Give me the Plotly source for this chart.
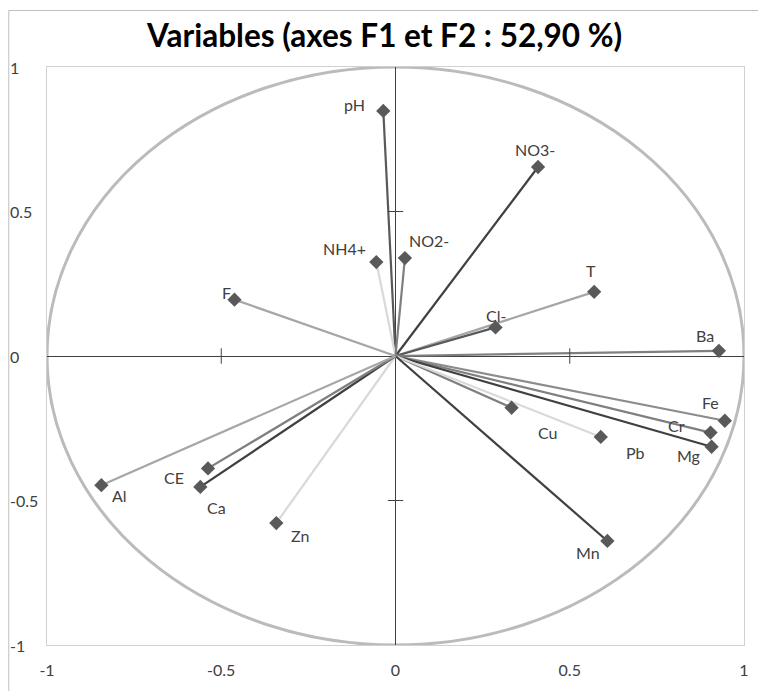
import plotly.graph_objects as go

# ---- data ----
variables = ["pH", "NO3-", "NH4+", "NO2-", "F", "T", "Cl-", "Ba", "Fe", "Cr",
             "Mg", "Cu", "Pb", "Mn", "Zn", "Ca", "CE", "Al"]
f1 = [-0.035, 0.409, -0.055, 0.027, -0.462, 0.570, 0.287, 0.928, 0.945, 0.904,
      0.907, 0.333, 0.589, 0.608, -0.342, -0.560, -0.538, -0.844]
f2 = [0.848, 0.654, 0.325, 0.339, 0.195, 0.222, 0.099, 0.018, -0.224, -0.265,
      -0.314, -0.179, -0.280, -0.640, -0.578, -0.453, -0.389, -0.447]
tick_vals = [-1, -0.5, 0, 0.5, 1]
tick_text = ["-1", "-0.5", "0", "0.5", "1"]
title_text = "Variables (axes F1 et F2 : 52,90 %)"

# ---- styles ----
line_colors = {
    "pH": "#595959", "NO3-": "#404040", "NH4+": "#D9D9D9", "NO2-": "#7F7F7F",
    "F": "#A6A6A6", "T": "#A6A6A6", "Cl-": "#595959", "Ba": "#7F7F7F",
    "Fe": "#8C8C8C", "Cr": "#7F7F7F", "Mg": "#404040", "Cu": "#7F7F7F",
    "Pb": "#D9D9D9", "Mn": "#404040", "Zn": "#D9D9D9", "Ca": "#404040",
    "CE": "#7F7F7F", "Al": "#A6A6A6",
}
# label offsets in pixels (dx right, dy down) from marker centre
label_offsets = {
    "pH": (-29, -6), "NO3-": (-3, -17), "NH4+": (-32, -14), "NO2-": (24, -18),
    "F": (-8, -7), "T": (-3, -21), "Cl-": (0, -12), "Ba": (-14, -15),
    "Fe": (-14, -18), "Cr": (-34, -7), "Mg": (-23, 9), "Cu": (36, 25),
    "Pb": (35, 16), "Mn": (-19, 12), "Zn": (24, 12), "Ca": (16, 21),
    "CE": (-34, 9), "Al": (18, 10),
}

W, H = 758, 691
ML, MR, MT, MB = 47, 9, 67, 46
PW, PH = W - ML - MR, H - MT - MB
FONT = "Lato"
TXT = "#404040"

fig = go.Figure()

for name, x, y in zip(variables, f1, f2):
    fig.add_trace(go.Scatter(
        x=[0, x], y=[0, y], mode="lines",
        line=dict(color=line_colors[name], width=2.2),
        hoverinfo="skip", showlegend=False))

fig.add_trace(go.Scatter(
    x=f1, y=f2, mode="markers", text=variables,
    marker=dict(symbol="diamond", size=11, color="#595959",
                line=dict(width=0)),
    showlegend=False, hovertemplate="%{text}: (%{x}, %{y})<extra></extra>"))

# crossing tick marks on the axes through the origin
fig.add_trace(go.Scatter(
    x=[-0.5, 0.5], y=[0, 0], mode="markers",
    marker=dict(symbol="line-ns", size=11, line=dict(color="#404040", width=1)),
    hoverinfo="skip", showlegend=False))
fig.add_trace(go.Scatter(
    x=[0, 0], y=[-0.5, 0.5], mode="markers",
    marker=dict(symbol="line-ew", size=11, line=dict(color="#404040", width=1)),
    hoverinfo="skip", showlegend=False))

annotations = []
for name, x, y in zip(variables, f1, f2):
    dx, dy = label_offsets[name]
    annotations.append(dict(
        x=x, y=y, xref="x", yref="y", text=name, showarrow=False,
        xshift=dx, yshift=-dy, font=dict(family=FONT, size=16, color=TXT)))

# y tick labels, left-aligned at the chart's left edge
for v, t in zip(tick_vals, tick_text):
    annotations.append(dict(
        x=(8 - ML) / PW, y=v, xref="paper", yref="y", text=t,
        showarrow=False, xanchor="left", yanchor="middle",
        font=dict(family=FONT, size=16, color=TXT)))

annotations.append(dict(
    x=(386 - ML) / PW, y=(H - MB - 35) / PH, xref="paper", yref="paper",
    text="<b>" + title_text + "</b>", showarrow=False,
    xanchor="center", yanchor="middle",
    font=dict(family=FONT, size=31.5, color="#000000")))

shapes = [
    dict(type="circle", xref="x", yref="y", x0=-1, y0=-1, x1=1, y1=1,
         line=dict(color="#BBBBBB", width=3), layer="below"),
    # outer chart border (left and top)
    dict(type="line", xref="paper", yref="paper",
         x0=(8.5 - ML) / PW, x1=(8.5 - ML) / PW,
         y0=(H - MB - 10.5) / PH, y1=(H - MB - 700) / PH,
         line=dict(color="#BFBFBF", width=1)),
    dict(type="line", xref="paper", yref="paper",
         x0=(8.5 - ML) / PW, x1=(770 - ML) / PW,
         y0=(H - MB - 10.5) / PH, y1=(H - MB - 10.5) / PH,
         line=dict(color="#BFBFBF", width=1)),
]

axis_common = dict(
    range=[-1, 1], showgrid=False, zeroline=True, zerolinecolor="#404040",
    zerolinewidth=1, showline=True, mirror=True, linecolor="#D0D0D0",
    linewidth=1, ticks="", fixedrange=True)

fig.update_layout(
    width=W, height=H,
    margin=dict(l=ML, r=MR, t=MT, b=MB, pad=0),
    paper_bgcolor="white", plot_bgcolor="white",
    xaxis=dict(**axis_common, tickvals=tick_vals, ticktext=tick_text,
               tickfont=dict(family=FONT, size=16, color=TXT),
               ticklabelstandoff=11),
    yaxis=dict(**axis_common, showticklabels=False),
    annotations=annotations, shapes=shapes,
    font=dict(family=FONT),
)

fig.write_html("out.html")
